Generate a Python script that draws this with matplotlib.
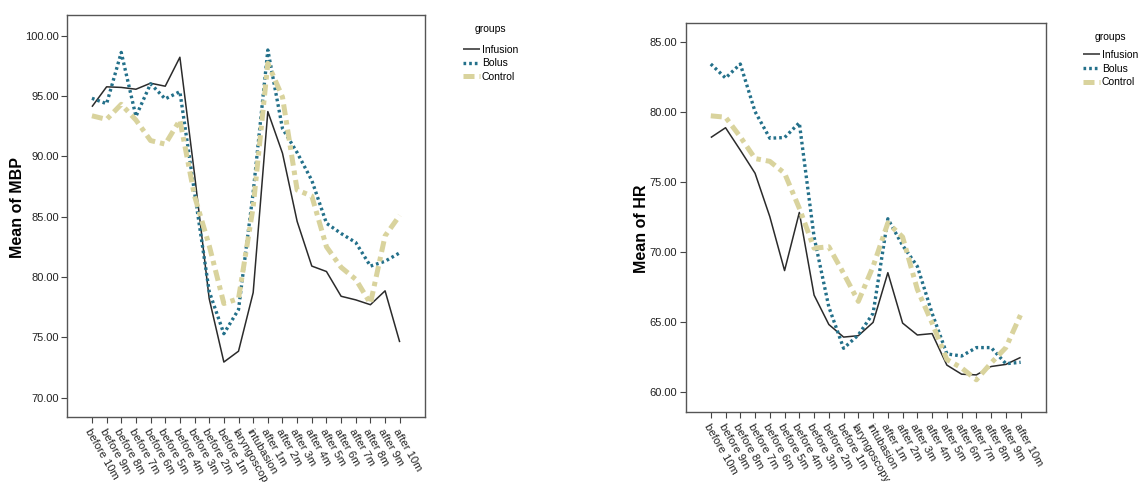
import matplotlib
matplotlib.use("Agg")
import matplotlib.pyplot as plt

# ----------------------------- data -----------------------------------------
TIMES = ["before 10m", "before 9m", "before 8m", "before 7m", "before 6m",
         "before 5m", "before 4m", "before 3m", "before 2m", "before 1m",
         "laryngoscopy", "intubasion", "after 1m", "after 2m", "after 3m",
         "after 4m", "after 5m", "after 6m", "after 7m", "after 8m",
         "after 9m", "after 10m"]
# left panel shows the laryngoscopy label cut short
TIMES_LEFT = TIMES[:10] + ["laryngoscop"] + TIMES[11:]

MBP_INFUSION = [94.1, 95.75, 95.7, 95.55, 96.05, 95.8, 98.2, 88.5, 78.2, 72.95, 73.85,
                78.7, 93.7, 90.25, 84.6, 80.9, 80.45, 78.4, 78.1, 77.7, 78.85, 74.6]
MBP_BOLUS = [94.8, 94.35, 98.6, 93.3, 96.0, 94.75, 95.35, 87.0, 78.8, 75.3, 77.3,
             87.0, 98.8, 92.3, 90.3, 88.0, 84.45, 83.6, 82.85, 80.9, 81.3, 82.0]
MBP_CONTROL = [93.35, 93.05, 94.3, 93.0, 91.3, 91.0, 93.0, 86.7, 82.6, 77.8, 78.2,
               85.8, 97.7, 94.9, 87.2, 86.7, 82.5, 80.8, 79.8, 77.8, 83.4, 85.1]

HR_INFUSION = [78.2, 78.9, 77.3, 75.65, 72.55, 68.7, 72.85, 66.95, 64.85, 63.95, 64.05,
               65.0, 68.55, 64.95, 64.1, 64.2, 61.95, 61.3, 61.25, 61.85, 62.0, 62.5]
HR_BOLUS = [83.45, 82.45, 83.45, 80.05, 78.15, 78.2, 79.25, 71.1, 66.1, 63.15, 64.1,
            65.65, 72.4, 70.5, 69.0, 65.65, 62.75, 62.6, 63.2, 63.2, 62.05, 62.15]
HR_CONTROL = [79.75, 79.65, 78.25, 76.7, 76.5, 75.65, 73.15, 70.3, 70.4, 68.5, 66.5,
              69.0, 72.1, 71.1, 67.35, 64.95, 62.35, 61.75, 60.9, 62.1, 63.2, 65.55]

GROUPS = ["Infusion", "Bolus", "Control"]
MBP_TICKS = [70, 75, 80, 85, 90, 95, 100]
HR_TICKS = [60, 65, 70, 75, 80, 85]

# ----------------------------- styling --------------------------------------
plt.rcParams.update({"font.family": ["Liberation Sans", "DejaVu Sans"],
                     "font.size": 8})
STYLES = {
    "Infusion": dict(color="#2b2b2b", lw=1.1, ls="-"),
    "Bolus": dict(color="#23708a", lw=2.4, ls=(0, (0.8, 0.9))),
    "Control": dict(color="#d9d39d", lw=3.6, ls=(0, (2.2, 1.0, 0.9, 1.0))),
}


def panel(fig, rect, series, labels, yticks, ylim, ylabel, lab_xy, leg_xy, title_gap):
    ax = fig.add_axes(rect)
    x = list(range(len(labels)))
    for name, vals in zip(GROUPS, series):
        ax.plot(x, vals, label=name, solid_capstyle="butt",
                dash_capstyle="butt", **STYLES[name])
    ax.set_xlim(-1.7, len(labels) - 1 + 1.7)
    ax.set_ylim(*ylim)
    ax.set_yticks(yticks)
    ax.set_yticklabels([f"{v:.2f}" for v in yticks], fontsize=8, color="#222222")
    ax.set_xticks(x)
    ax.set_xticklabels(labels, rotation=-60, ha="left", va="top",
                       rotation_mode="anchor", fontsize=8, color="#222222")
    ax.tick_params(axis="both", direction="out", length=4, width=0.8,
                   color="#444444", pad=2)
    ax.tick_params(axis="x", pad=3)
    for s in ax.spines.values():
        s.set_color("#555555")
        s.set_linewidth(1.0)
    ax.set_ylabel(ylabel, fontsize=11.5, fontweight="bold")
    ax.yaxis.set_label_coords(*lab_xy)
    leg = ax.legend(loc="upper left", bbox_to_anchor=leg_xy,
                    bbox_transform=fig.transFigure, frameon=False,
                    title="groups", fontsize=7.5, title_fontsize=7.5,
                    handlelength=1.6, handletextpad=0.2, labelspacing=0.35,
                    borderpad=0)
    leg._legend_box.align = "center"
    leg._legend_box.sep = title_gap
    return ax


fig = plt.figure(figsize=(11.4, 4.82), dpi=100)
panel(fig, [0.0588, 0.1349, 0.3137, 0.834],
      [MBP_INFUSION, MBP_BOLUS, MBP_CONTROL], TIMES_LEFT,
      MBP_TICKS, (68.4, 101.7), "Mean of MBP", (-0.117, 0.52), (0.4015, 0.962), 8)
panel(fig, [0.6015, 0.1452, 0.3158, 0.8077],
      [HR_INFUSION, HR_BOLUS, HR_CONTROL], TIMES,
      HR_TICKS, (58.6, 86.4), "Mean of HR", (-0.102, 0.47), (0.9455, 0.945), 6)
fig.savefig("out.png", dpi=100)
